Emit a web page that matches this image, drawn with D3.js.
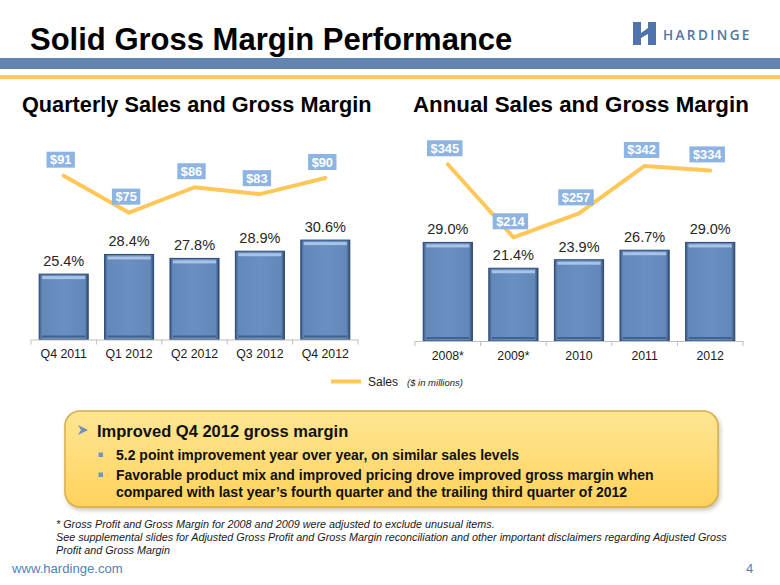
<!DOCTYPE html>
<html>
<head>
<meta charset="utf-8">
<script src="https://cdn.jsdelivr.net/npm/d3@7/dist/d3.min.js"></script>
<style>
  html, body { margin: 0; padding: 0; background: #fff; }
  svg { display: block; font-family: "Liberation Sans", Arial, sans-serif; }
</style>
</head>
<body>
<svg id="chart" width="780" height="585"></svg>
<script>
// ---------- data ----------
const quarters = ["Q4 2011", "Q1 2012", "Q2 2012", "Q3 2012", "Q4 2012"];
const quarterMargin = [25.4, 28.4, 27.8, 28.9, 30.6];
const quarterSales = [91, 75, 86, 83, 90];

const years = ["2008*", "2009*", "2010", "2011", "2012"];
const yearMargin = [29.0, 21.4, 23.9, 26.7, 29.0];
const yearSales = [345, 214, 257, 342, 334];

const titleText = "Solid Gross Margin Performance";
const subtitles = ["Quarterly Sales and Gross Margin", "Annual Sales and Gross Margin"];
const headline = "Improved Q4 2012 gross margin";
const bullets = [
  ["5.2 point improvement year over year, on similar sales levels"],
  ["Favorable product mix and improved pricing drove improved gross margin when",
   "compared with last year\u2019s fourth quarter and the trailing third quarter of 2012"]
];
const footnotes = [
  "* Gross Profit and Gross Margin for 2008 and 2009 were adjusted to exclude unusual items.",
  "See supplemental slides for Adjusted Gross Profit and Gross Margin reconciliation and other important disclaimers regarding Adjusted Gross",
  "Profit and Gross Margin"
];

// ---------- setup ----------
const svg = d3.select("#chart");
const defs = svg.append("defs");

const barGrad = defs.append("linearGradient").attr("id", "barGrad")
  .attr("x1", "0").attr("x2", "1").attr("y1", "0").attr("y2", "0");
[["0%", "#3a5a86"], ["6%", "#6388ba"], ["50%", "#6990c2"], ["93%", "#6388ba"], ["100%", "#2f4b73"]]
  .forEach(([o, c]) => barGrad.append("stop").attr("offset", o).attr("stop-color", c));

const boxGrad = defs.append("linearGradient").attr("id", "boxGrad")
  .attr("x1", "0").attr("x2", "0").attr("y1", "0").attr("y2", "1");
[["0%", "#ffe694"], ["100%", "#ffd25c"]]
  .forEach(([o, c]) => boxGrad.append("stop").attr("offset", o).attr("stop-color", c));

const shadow = defs.append("filter").attr("id", "shadow")
  .attr("x", "-5%").attr("y", "-10%").attr("width", "112%").attr("height", "130%");
shadow.append("feDropShadow").attr("dx", 1.5).attr("dy", 2.5).attr("stdDeviation", 2)
  .attr("flood-color", "#8a7a50").attr("flood-opacity", 0.45);

// ---------- header ----------
svg.append("text").attr("x", 30).attr("y", 50)
  .attr("font-size", 31).attr("font-weight", "bold").attr("fill", "#000")
  .text(titleText);

svg.append("rect").attr("x", 0).attr("y", 58).attr("width", 780).attr("height", 11).attr("fill", "#6284b1");
svg.append("rect").attr("x", 0).attr("y", 75).attr("width", 780).attr("height", 4).attr("fill", "#ffcc66");

// logo
const logo = svg.append("g");
logo.append("rect").attr("x", 633).attr("y", 22).attr("width", 23).attr("height", 23).attr("fill", "#4f74ad");
logo.append("path").attr("d", "M641,22 L648,22 L648,28 L641,33 Z").attr("fill", "#fff");
logo.append("path").attr("d", "M641,38 L648,34 L648,45 L641,45 Z").attr("fill", "#fff");
logo.append("text").attr("x", 663).attr("y", 40)
  .attr("font-family", "'Open Sans', sans-serif").attr("font-weight", 600)
  .attr("font-size", 13.5).attr("letter-spacing", 2.4).attr("fill", "#4f74ad")
  .text("HARDINGE");

// subtitles
svg.append("text").attr("x", 22).attr("y", 112).attr("font-size", 21.7).attr("font-weight", "bold").text(subtitles[0]);
svg.append("text").attr("x", 413).attr("y", 112).attr("font-size", 22.3).attr("font-weight", "bold").text(subtitles[1]);

// ---------- panels ----------
function drawPanel(cats, margins, sales, cfg) {
  const g = svg.append("g");
  const x = d3.scaleBand().domain(cats).range(cfg.xRange).paddingInner(0.25).paddingOuter(0.125);
  const y = d3.scaleLinear().domain(cfg.barDomain).range([cfg.axisY, cfg.barTopY]);
  const ys = d3.scaleLinear().domain(cfg.salesDomain).range(cfg.salesRange);
  const data = cats.map((c, i) => ({ c, m: margins[i], s: sales[i] }));

  // bars
  const bars = g.selectAll(".bar").data(data).join("g");
  bars.append("rect")
    .attr("x", d => x(d.c)).attr("y", d => y(d.m))
    .attr("width", x.bandwidth()).attr("height", d => cfg.axisY - y(d.m))
    .attr("fill", "url(#barGrad)").attr("stroke", "#2c4870").attr("stroke-width", 1);
  bars.append("rect")
    .attr("x", d => x(d.c) + 3).attr("y", d => y(d.m) + 2)
    .attr("width", x.bandwidth() - 6).attr("height", 3)
    .attr("fill", "#a9c3e6");
  bars.append("rect")
    .attr("x", d => x(d.c) + 3).attr("y", cfg.axisY - 4)
    .attr("width", x.bandwidth() - 6).attr("height", 2)
    .attr("fill", "#41628f");

  // percent labels
  g.selectAll(".pct").data(data).join("text")
    .attr("x", d => x(d.c) + x.bandwidth() / 2).attr("y", d => y(d.m) - 8)
    .attr("text-anchor", "middle").attr("font-size", 14.5).attr("fill", "#262626")
    .text(d => d.m.toFixed(1) + "%");

  // axis
  const axis = d3.axisBottom(x).tickSize(0).tickPadding(10);
  const ax = g.append("g").attr("transform", `translate(0,${cfg.axisY})`).call(axis);
  ax.select(".domain").attr("stroke", "#bfbfbf");
  ax.selectAll(".tick text").attr("font-size", 12.3).attr("fill", "#1a1a1a")
    .attr("font-family", "'Liberation Sans', Arial, sans-serif");
  const bounds = cats.map(c => x(c) - x.step() * x.paddingInner() / 2).concat([cfg.xRange[1]]);
  bounds[0] = cfg.xRange[0];
  g.selectAll(".tk").data(bounds).join("line")
    .attr("x1", d => d).attr("x2", d => d)
    .attr("y1", cfg.axisY).attr("y2", cfg.axisY + 5)
    .attr("stroke", "#bfbfbf");

  // sales line
  const line = d3.line().x(d => x(d.c) + x.bandwidth() / 2).y(d => ys(d.s));
  g.append("path").datum(data).attr("d", line)
    .attr("fill", "none").attr("stroke", "#ffc658").attr("stroke-width", 4)
    .attr("stroke-linejoin", "round").attr("stroke-linecap", "round");

  // sales labels
  const lab = g.selectAll(".sl").data(data).join("g")
    .attr("transform", d => `translate(${x(d.c) + x.bandwidth() / 2 - 3},${ys(d.s) - 16})`);
  lab.append("text").attr("text-anchor", "middle").attr("y", 4.5)
    .attr("font-size", 12.8).attr("font-weight", "bold").attr("fill", "#fff")
    .text(d => "$" + d.s);
  lab.each(function () {
    const t = d3.select(this).select("text");
    const w = t.node().getComputedTextLength();
    d3.select(this).insert("rect", "text")
      .attr("x", -w / 2 - 3.5).attr("y", -8).attr("width", w + 7).attr("height", 16)
      .attr("fill", "#8db4e2");
  });
}

drawPanel(quarters, quarterMargin, quarterSales, {
  xRange: [31, 358], axisY: 339.5, barTopY: 211.3, barDomain: [15.4, 35],
  salesDomain: [60, 100], salesRange: [247.3, 154.9]
});
drawPanel(years, yearMargin, yearSales, {
  xRange: [415, 743], axisY: 341, barTopY: 205, barDomain: [0, 40],
  salesDomain: [200, 350], salesRange: [245.1, 161.5]
});

// legend
svg.append("line").attr("x1", 331).attr("x2", 361).attr("y1", 381.5).attr("y2", 381.5)
  .attr("stroke", "#ffc658").attr("stroke-width", 4);
svg.append("text").attr("x", 368).attr("y", 386).attr("font-size", 12).attr("fill", "#1a1a1a").text("Sales");
svg.append("text").attr("x", 407).attr("y", 386).attr("font-size", 9.5).attr("font-style", "italic")
  .attr("fill", "#1a1a1a").text("($ in millions)");

// ---------- callout box ----------
svg.append("rect").attr("x", 65).attr("y", 411).attr("width", 653).attr("height", 96)
  .attr("rx", 15).attr("ry", 15)
  .attr("fill", "url(#boxGrad)").attr("stroke", "#d9ad4a").attr("stroke-width", 1.5)
  .attr("filter", "url(#shadow)");

svg.append("path").attr("d", "M78,425 L88,430 L78,435 L81,430 Z").attr("fill", "#6f8fbf");
svg.append("text").attr("x", 97).attr("y", 437).attr("font-size", 16.5).attr("font-weight", "bold")
  .attr("fill", "#111").text(headline);

const bulletBase = [460, 480];
bullets.forEach((lines, i) => {
  svg.append("rect").attr("x", 98.5).attr("y", bulletBase[i] - 7.5).attr("width", 4.5).attr("height", 4.5)
    .attr("fill", "#6f95c8");
  lines.forEach((l, j) => {
    svg.append("text").attr("x", 116).attr("y", bulletBase[i] + j * 17)
      .attr("font-size", 14).attr("font-weight", "bold").attr("fill", "#111").text(l);
  });
});

// ---------- footnotes ----------
footnotes.forEach((f, i) => {
  svg.append("text").attr("x", 56).attr("y", 528 + i * 13)
    .attr("font-size", 10.8).attr("font-style", "italic").attr("fill", "#1a1a1a").text(f);
});

svg.append("text").attr("x", 12).attr("y", 573).attr("font-size", 13.1).attr("fill", "#4f81bd").text("www.hardinge.com");
svg.append("text").attr("x", 746).attr("y", 573).attr("font-size", 13).attr("fill", "#4f81bd").text("4");
</script>
</body>
</html>
